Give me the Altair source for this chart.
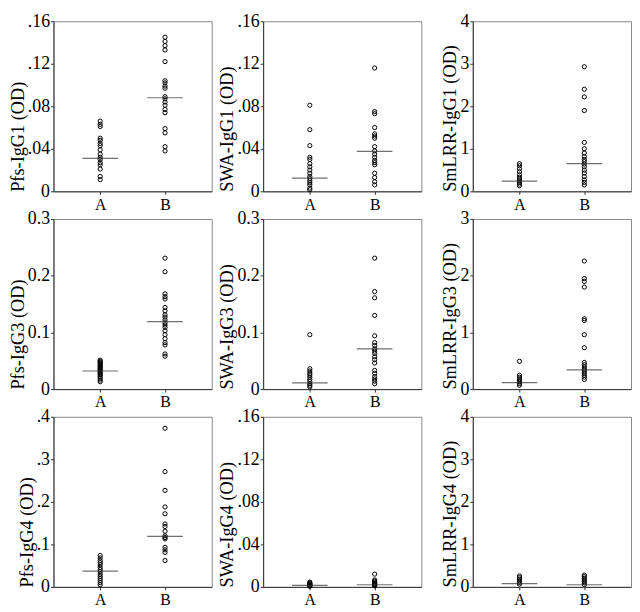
import altair as alt
import pandas as pd

groups = ["A", "B"]

# ---- Row 1: IgG1 ----
pfs_igg1_a = [0.066, 0.063, 0.061, 0.050, 0.048, 0.045, 0.043, 0.039, 0.035, 0.032, 0.030, 0.027, 0.025, 0.021, 0.014, 0.011]
pfs_igg1_b = [0.145, 0.141, 0.137, 0.133, 0.122, 0.104, 0.102, 0.099, 0.097, 0.089, 0.087, 0.084, 0.081, 0.077, 0.074, 0.059, 0.055, 0.042, 0.038]
pfs_igg1_med = [0.031, 0.088]

swa_igg1_a = [0.081, 0.058, 0.043, 0.032, 0.030, 0.026, 0.023, 0.020, 0.017, 0.014, 0.012, 0.010, 0.008, 0.006, 0.003, 0.0015]
swa_igg1_b = [0.116, 0.075, 0.073, 0.060, 0.054, 0.052, 0.050, 0.042, 0.038, 0.035, 0.032, 0.029, 0.027, 0.025, 0.017, 0.013, 0.009, 0.006]
swa_igg1_med = [0.0125, 0.0375]

sm_igg1_a = [0.65, 0.60, 0.53, 0.46, 0.39, 0.33, 0.29, 0.25, 0.21, 0.17, 0.13]
sm_igg1_b = [2.93, 2.40, 2.22, 1.90, 1.15, 1.00, 0.90, 0.82, 0.75, 0.70, 0.64, 0.58, 0.50, 0.43, 0.35, 0.27, 0.21, 0.15]
sm_igg1_med = [0.24, 0.65]

# ---- Row 2: IgG3 ----
pfs_igg3_a = [0.051, 0.049, 0.047, 0.045, 0.043, 0.041, 0.039, 0.037, 0.035, 0.033, 0.031, 0.029, 0.027, 0.025, 0.022, 0.019, 0.016, 0.013]
pfs_igg3_b = [0.231, 0.207, 0.168, 0.163, 0.159, 0.144, 0.138, 0.131, 0.127, 0.122, 0.117, 0.113, 0.109, 0.103, 0.096, 0.089, 0.082, 0.078, 0.062, 0.058]
pfs_igg3_med = [0.032, 0.119]

swa_igg3_a = [0.096, 0.036, 0.032, 0.028, 0.025, 0.021, 0.017, 0.0135, 0.0095, 0.0067, 0.004]
swa_igg3_b = [0.231, 0.172, 0.161, 0.130, 0.094, 0.082, 0.077, 0.071, 0.067, 0.063, 0.057, 0.052, 0.046, 0.033, 0.028, 0.022, 0.018, 0.014, 0.0095]
swa_igg3_med = [0.011, 0.071]

sm_igg3_a = [0.49, 0.245, 0.21, 0.18, 0.15, 0.125, 0.097, 0.068]
sm_igg3_b = [2.26, 1.95, 1.90, 1.80, 1.24, 1.21, 0.96, 0.73, 0.47, 0.43, 0.39, 0.35, 0.32, 0.285, 0.245, 0.21, 0.17]
sm_igg3_med = [0.115, 0.34]

# ---- Row 3: IgG4 ----
pfs_igg4_a = [0.074, 0.068, 0.062, 0.057, 0.052, 0.046, 0.041, 0.036, 0.030, 0.025, 0.020, 0.015, 0.010, 0.005]
pfs_igg4_b = [0.373, 0.271, 0.227, 0.188, 0.172, 0.148, 0.142, 0.131, 0.120, 0.116, 0.113, 0.093, 0.087, 0.081, 0.062]
pfs_igg4_med = [0.037, 0.119]

swa_igg4_a = [0.0045, 0.0038, 0.003, 0.0025, 0.002, 0.0015, 0.001, 0.0005]
swa_igg4_b = [0.012, 0.0065, 0.0055, 0.0045, 0.0035, 0.003, 0.0025, 0.002, 0.0015, 0.001]
swa_igg4_med = [0.0015, 0.002]

sm_igg4_a = [0.255, 0.217, 0.18, 0.142, 0.105, 0.067]
sm_igg4_b = [0.277, 0.24, 0.202, 0.165, 0.127, 0.09, 0.052]
sm_igg4_med = [0.075, 0.05]

# ---- tick values and labels ----
ticks_016 = [0, 0.04, 0.08, 0.12, 0.16]
labels_016 = ["0", ".04", ".08", ".12", ".16"]
ticks_03 = [0, 0.1, 0.2, 0.3]
labels_03 = ["0", "0.1", "0.2", "0.3"]
ticks_04 = [0, 0.1, 0.2, 0.3, 0.4]
labels_04 = ["0", ".1", ".2", ".3", ".4"]
ticks_4 = [0, 1, 2, 3, 4]
labels_4 = ["0", "1", "2", "3", "4"]
ticks_3 = [0, 1, 2, 3]
labels_3 = ["0", "1", "2", "3"]

panels = [
    ("Pfs-IgG1 (OD)", pfs_igg1_a, pfs_igg1_b, pfs_igg1_med, ticks_016, labels_016),
    ("SWA-IgG1 (OD)", swa_igg1_a, swa_igg1_b, swa_igg1_med, ticks_016, labels_016),
    ("SmLRR-IgG1 (OD)", sm_igg1_a, sm_igg1_b, sm_igg1_med, ticks_4, labels_4),
    ("Pfs-IgG3 (OD)", pfs_igg3_a, pfs_igg3_b, pfs_igg3_med, ticks_03, labels_03),
    ("SWA-IgG3 (OD)", swa_igg3_a, swa_igg3_b, swa_igg3_med, ticks_03, labels_03),
    ("SmLRR-IgG3 (OD)", sm_igg3_a, sm_igg3_b, sm_igg3_med, ticks_3, labels_3),
    ("Pfs-IgG4 (OD)", pfs_igg4_a, pfs_igg4_b, pfs_igg4_med, ticks_04, labels_04),
    ("SWA-IgG4 (OD)", swa_igg4_a, swa_igg4_b, swa_igg4_med, ticks_016, labels_016),
    ("SmLRR-IgG4 (OD)", sm_igg4_a, sm_igg4_b, sm_igg4_med, ticks_4, labels_4),
]

W, H = 160, 172
FONT = "Times New Roman, Liberation Serif, Times, serif"


def label_expr(ticks, labels):
    expr = ""
    for v, l in zip(ticks, labels):
        expr += f"abs(datum.value - {v}) < 1e-9 ? '{l}' : "
    return expr + "''"


def make_panel(title, a, b, med, ticks, labels):
    pts = pd.DataFrame({"g": ["A"] * len(a) + ["B"] * len(b), "v": list(a) + list(b)})
    mdf = pd.DataFrame({"g": groups, "v": med})
    xenc = alt.X("g:N", scale=alt.Scale(type="point", domain=groups, padding=0.72),
                 axis=alt.Axis(title=None, labelAngle=0, labelFont=FONT, labelFontSize=16,
                               labelColor="black", tickSize=3, labelPadding=2,
                               domainColor="#333", tickColor="#333"))
    yenc = alt.Y("v:Q", scale=alt.Scale(domain=[0, ticks[-1]], nice=False, zero=True),
                 axis=alt.Axis(title=title, values=ticks, labelExpr=label_expr(ticks, labels),
                               grid=False, titleAnchor="start", titleFont=FONT, titleFontSize=18.5,
                               titleFontWeight="normal", titleColor="black", titlePadding=0,
                               labelFont=FONT, labelFontSize=18, labelColor="black",
                               labelPadding=1, tickSize=3, domainColor="#333", tickColor="#333"))
    points = alt.Chart(pts).mark_point(shape="circle", filled=False, color="black",
                                       strokeWidth=1, size=18, opacity=1).encode(x=xenc, y=yenc)
    medians = alt.Chart(mdf).mark_tick(size=36, thickness=1.2, color="#333").encode(
        x=alt.X("g:N", scale=alt.Scale(type="point", domain=groups, padding=0.72)),
        y=alt.Y("v:Q"))
    return alt.layer(points, medians).properties(width=W, height=H)


charts = [make_panel(*p) for p in panels]

chart = alt.concat(*charts, columns=3, spacing={"row": 28, "column": 52}, bounds="flush").properties(
    padding=0, background="white"
).configure_view(stroke="#888", strokeWidth=1)

chart.save("out.html", embed_options={"renderer": "svg", "actions": False})
